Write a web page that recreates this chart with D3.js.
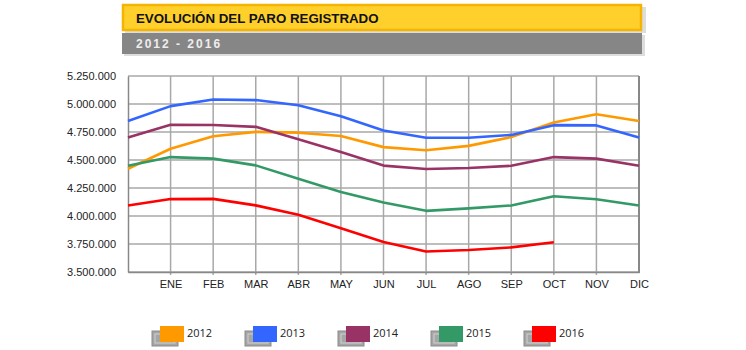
<!DOCTYPE html>
<html><head><meta charset="utf-8">
<script src="https://cdn.jsdelivr.net/npm/d3@7/dist/d3.min.js"></script>
<style>body{margin:0;background:#fff}svg{display:block}</style>
</head><body>
<svg id="c" width="746" height="350"></svg>
<script>
const title = "EVOLUCIÓN DEL PARO REGISTRADO";
const subtitle = "2012 - 2016";
const months = ["", "ENE","FEB","MAR","ABR","MAY","JUN","JUL","AGO","SEP","OCT","NOV","DIC"];
const yTicks = [3500000,3750000,4000000,4250000,4500000,4750000,5000000,5250000];
const years = ["2012","2013","2014","2015","2016"];
const colors = ["#ff9900","#3366ff","#993366","#339966","#ff0000"];
const s2012 = [4422000,4600000,4712000,4751000,4744000,4714000,4615000,4587000,4626000,4705000,4834000,4908000,4849000];
const s2013 = [4849000,4981000,5040000,5035000,4989000,4891000,4764000,4699000,4699000,4724000,4811000,4809000,4701000];
const s2014 = [4701000,4814000,4812000,4796000,4685000,4572000,4450000,4420000,4428000,4448000,4526000,4512000,4448000];
const s2015 = [4448000,4526000,4512000,4452000,4333000,4215000,4120000,4046000,4068000,4094000,4176000,4149000,4094000];
const s2016 = [4094000,4151000,4153000,4095000,4011000,3891000,3767000,3683000,3697000,3720000,3765000];
const series = [s2012,s2013,s2014,s2015,s2016];

const svg = d3.select("#c");
const L=128, R=639, T=76, B=272;
const x = d3.scaleLinear().domain([0,12]).range([L,R]);
const y = d3.scaleLinear().domain([3500000,5250000]).range([B,T]);
const fmt = v => d3.format(",")(v).replace(/,/g,".");

// header
svg.append("rect").attr("x",125).attr("y",7).attr("width",521).attr("height",26).attr("fill","#ddd");
svg.append("rect").attr("x",123).attr("y",5).attr("width",518).attr("height",25).attr("fill","#ffd02c").attr("stroke","#f5b400").attr("stroke-width",2.5);
svg.append("text").attr("x",136).attr("y",23).text(title)
  .attr("font-family","Liberation Sans, Arial, sans-serif").attr("font-weight","bold").attr("font-size",13.3).attr("fill","#111");
svg.append("rect").attr("x",124).attr("y",35).attr("width",521).attr("height",21).attr("fill","#ddd");
svg.append("rect").attr("x",122).attr("y",33).attr("width",520).attr("height",21).attr("fill","#868686");
svg.append("text").attr("x",136).attr("y",48).text(subtitle)
  .attr("font-family","Liberation Sans, Arial, sans-serif").attr("font-weight","bold").attr("font-size",12).attr("letter-spacing",2).attr("fill","#eee");

// grid
const g = svg.append("g");
g.selectAll("line.h").data(yTicks).enter().append("line")
  .attr("x1",L).attr("x2",R).attr("y1",d=>y(d)).attr("y2",d=>y(d)).attr("stroke","#a8a8a8").attr("stroke-width",1.5);
g.selectAll("line.v").data(d3.range(1,12)).enter().append("line")
  .attr("x1",d=>x(d)).attr("x2",d=>x(d)).attr("y1",T).attr("y2",B+3).attr("stroke","#a8a8a8").attr("stroke-width",1.5);

// axes
const yAxis = d3.axisLeft(y).tickValues(yTicks).tickFormat(fmt).tickSize(0).tickPadding(12);
const ya = svg.append("g").attr("transform",`translate(${L},0)`).call(yAxis);
ya.select(".domain").attr("stroke","#888").attr("stroke-width",1.5);
ya.selectAll("text").attr("font-family","Liberation Sans, Arial, sans-serif").attr("font-size",11).attr("fill","#222");

const xAxis = d3.axisBottom(x).tickValues(d3.range(1,13)).tickFormat(d=>months[d]).tickSize(0).tickPadding(8);
const xa = svg.append("g").attr("transform",`translate(0,${B})`).call(xAxis);
xa.select(".domain").attr("stroke","#888").attr("stroke-width",1.5);
xa.selectAll("text").attr("font-family","Liberation Sans, Arial, sans-serif").attr("font-size",11).attr("fill","#222");
svg.append("line").attr("x1",R).attr("x2",R).attr("y1",T).attr("y2",B+1).attr("stroke","#888").attr("stroke-width",2);

// lines
const line = d3.line().x((d,i)=>x(i)).y(d=>y(d));
svg.selectAll("path.s").data(series).enter().append("path")
  .attr("d",line).attr("fill","none").attr("stroke",(d,i)=>colors[i]).attr("stroke-width",2.6).attr("stroke-linejoin","round");

// legend
const leg = svg.selectAll("g.leg").data(years).enter().append("g").attr("transform",(d,i)=>`translate(${160+i*93},326)`);
leg.append("rect").attr("x",-8).attr("y",5).attr("width",26).attr("height",15).attr("fill","#a6a6a6").attr("stroke","#8a8a8a");
leg.append("rect").attr("x",-5).attr("y",8).attr("width",20).attr("height",9).attr("fill","none").attr("stroke","#cfcfcf");
leg.append("rect").attr("x",0).attr("y",0).attr("width",24).attr("height",16).attr("fill",(d,i)=>colors[i]);
leg.append("text").attr("x",27).attr("y",11).text(d=>d)
  .attr("font-family","Open Sans, sans-serif").attr("font-size",11).attr("fill","#222");
</script>
</body></html>
